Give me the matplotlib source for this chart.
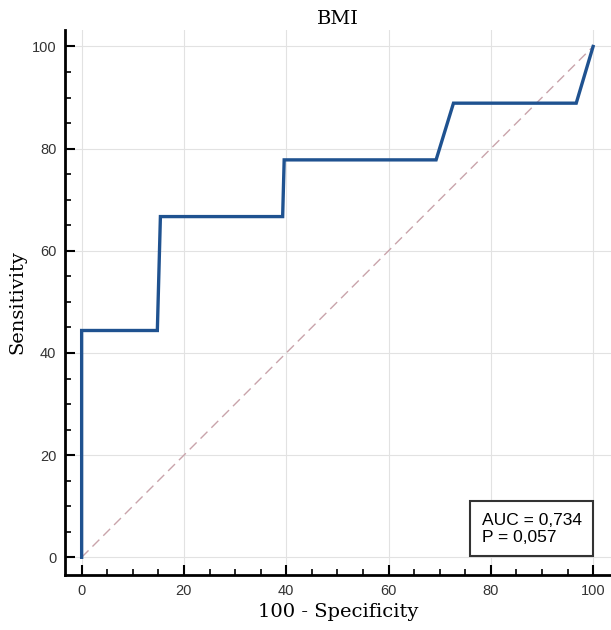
import numpy as np
import matplotlib.pyplot as plt
from matplotlib.ticker import MultipleLocator

# ROC curve points (100 - Specificity, Sensitivity)
fpr = [0, 0, 14.8, 15.4, 39.3, 39.6, 69.3, 72.7, 96.7, 100]
tpr = [0, 44.4, 44.4, 66.7, 66.7, 77.8, 77.8, 88.9, 88.9, 100]
auc_text = "AUC = 0,734\nP = 0,057"
title = "BMI"

fig = plt.figure(figsize=(6.11, 6.30), dpi=100)
ax = fig.add_axes([0.106, 0.087, 0.894, 0.866])

# diagonal reference line
ax.plot([0, 100], [0, 100], color='#c9a4ab', linestyle=(0, (7, 4)), linewidth=1.0, zorder=2)
# ROC curve
ax.plot(fpr, tpr, color='#1f5290', linewidth=2.4, solid_joinstyle='miter', zorder=3)

ax.set_xlim(-3.3, 103.5)
ax.set_ylim(-3.5, 103.3)
ax.xaxis.set_major_locator(MultipleLocator(20))
ax.yaxis.set_major_locator(MultipleLocator(20))
ax.xaxis.set_minor_locator(MultipleLocator(5))
ax.yaxis.set_minor_locator(MultipleLocator(5))
ax.grid(True, which='major', color='#e2e2e2', linewidth=0.8, zorder=0)
ax.set_axisbelow(True)

for s in ['top', 'right']:
    ax.spines[s].set_visible(False)
for s in ['left', 'bottom']:
    ax.spines[s].set_linewidth(2.0)

ax.tick_params(which='major', direction='in', length=7, width=1.5, labelsize=10.5,
               pad=6, colors='black')
ax.tick_params(which='minor', direction='in', length=4, width=1.2)
ax.tick_params(axis='both', which='major', labelcolor='#333333')
for lab in ax.get_xticklabels() + ax.get_yticklabels():
    lab.set_family('Liberation Sans')

ax.set_title(title, fontsize=14, family='DejaVu Serif', pad=4)
ax.set_xlabel('100 - Specificity', fontsize=14, family='DejaVu Serif', labelpad=4)
ax.set_ylabel('Sensitivity', fontsize=14, family='DejaVu Serif', labelpad=4)

ax.text(88.0, 5.6, auc_text, fontsize=12.5, family='Liberation Sans', va='center', ha='center',
        multialignment='left', linespacing=1.15, zorder=5,
        bbox=dict(boxstyle='square,pad=0.66', facecolor='white', edgecolor='#333333', linewidth=1.5))

fig.savefig('out.png', dpi=100)
